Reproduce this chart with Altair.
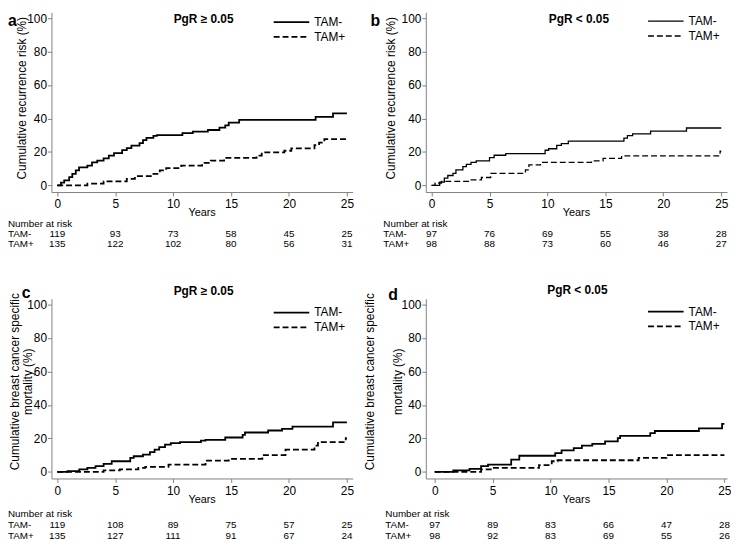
import altair as alt
import pandas as pd

FONT = "Liberation Sans"
GRAY = "#808080"
X_TICKS = [0, 5, 10, 15, 20, 25]
Y_TICKS = [0, 20, 40, 60, 80, 100]

# ---------------- data ----------------
# panel a: recurrence, PgR >= 0.05
a_neg_t = [0, 0.32, 0.6, 1.03, 1.3, 1.6, 1.88, 2.6, 3.0, 3.45, 4.0, 4.45, 4.9, 5.6, 6.0, 6.4, 7.1, 7.4, 7.7, 8.3, 8.6, 10.8, 11.7, 13.0, 14.0, 14.5, 14.8, 15.7, 22.3, 23.8, 25.0]
a_neg_y = [0, 1.6, 3.0, 4.9, 6.9, 8.9, 10.8, 11.8, 13.8, 14.8, 16.2, 17.8, 19.3, 21.1, 22.3, 23.7, 25.3, 27.0, 28.4, 29.6, 30.0, 31.2, 32.1, 33.1, 34.5, 35.9, 37.5, 39.1, 41.0, 43.0, 43.0]
a_pos_t = [0, 2.6, 4.0, 6.0, 6.7, 8.3, 8.85, 9.4, 10.7, 12.5, 13.25, 14.4, 17.2, 17.65, 19.6, 20.2, 22.2, 22.6, 23.05, 25.0]
a_pos_y = [0, 1.0, 2.4, 3.9, 5.5, 6.9, 8.9, 10.3, 11.8, 13.4, 14.8, 16.4, 17.8, 19.7, 20.7, 22.1, 24.1, 25.6, 27.6, 27.6]
a_risk_neg = [119, 93, 73, 58, 45, 25]
a_risk_pos = [135, 122, 102, 80, 56, 31]

# panel b: recurrence, PgR < 0.05
b_neg_t = [0, 0.7, 1.1, 1.4, 1.85, 2.1, 2.7, 3.0, 3.4, 3.85, 5.0, 5.4, 6.4, 9.8, 10.1, 10.8, 11.2, 11.8, 16.6, 16.9, 17.35, 18.9, 22.0, 25.0]
b_neg_y = [0, 1.9, 4.3, 5.9, 7.2, 9.2, 11.2, 12.5, 13.7, 14.7, 16.6, 18.0, 19.0, 21.0, 21.9, 23.9, 24.9, 26.5, 28.2, 29.8, 30.8, 32.4, 34.3, 34.3]
b_pos_t = [0, 0.3, 0.85, 3.3, 4.3, 5.1, 8.1, 8.4, 9.4, 13.8, 14.8, 16.4, 24.9, 25.0]
b_pos_y = [0, 1.4, 2.4, 3.3, 4.7, 7.2, 9.2, 12.2, 13.7, 14.7, 16.1, 17.6, 20.4, 20.4]
b_risk_neg = [97, 76, 69, 55, 38, 28]
b_risk_pos = [98, 88, 73, 60, 46, 27]

# panel c: breast cancer specific mortality, PgR >= 0.05
c_neg_t = [0, 0.88, 1.9, 2.6, 3.3, 4.0, 4.7, 6.3, 6.6, 7.4, 8.0, 8.4, 8.8, 9.3, 9.8, 10.6, 12.4, 12.8, 14.5, 16.0, 16.2, 18.2, 19.4, 20.3, 23.8, 25.0]
c_neg_y = [0, 0.4, 1.4, 2.4, 3.4, 4.7, 6.3, 8.3, 9.3, 10.2, 11.8, 13.2, 14.8, 16.2, 17.2, 17.8, 18.7, 19.1, 20.5, 22.1, 23.5, 24.7, 25.6, 27.0, 29.6, 29.6]
c_pos_t = [0, 4.0, 5.4, 7.0, 7.6, 9.6, 12.8, 14.8, 17.7, 19.7, 22.2, 22.5, 24.9, 25.0]
c_pos_y = [0, 0.8, 1.4, 2.4, 3.0, 4.3, 6.7, 7.7, 9.9, 13.2, 15.6, 17.8, 20.1, 20.1]
c_risk_neg = [119, 108, 89, 75, 57, 25]
c_risk_pos = [135, 127, 111, 91, 67, 24]

# panel d: breast cancer specific mortality, PgR < 0.05
d_neg_t = [0, 1.6, 3.0, 4.0, 4.6, 6.6, 7.3, 10.4, 10.95, 12.0, 12.7, 13.6, 14.7, 15.8, 16.0, 18.6, 19.0, 22.8, 24.8, 25.0]
d_neg_y = [0, 0.8, 1.8, 3.4, 4.3, 7.3, 9.6, 11.2, 12.8, 14.2, 15.6, 16.7, 18.2, 20.1, 21.5, 23.1, 24.4, 26.0, 28.6, 28.6]
d_pos_t = [0, 4.0, 5.0, 9.0, 10.1, 10.6, 17.6, 20.0, 25.0]
d_pos_y = [0, 1.4, 2.4, 4.0, 6.3, 6.9, 8.3, 9.9, 9.9]
d_risk_neg = [97, 89, 83, 66, 47, 28]
d_risk_pos = [98, 92, 83, 69, 55, 26]

W, H = 305, 182
TABLE_FS = 10


def txt(s, x, y, size=12, bold=False, align="left", baseline="middle", angle=0):
    return alt.Chart(alt.Data(values=[{}])).mark_text(
        text=s, font=FONT, fontSize=size, fontWeight="bold" if bold else "normal",
        align=align, baseline=baseline, angle=angle, color="black"
    ).encode(x=alt.value(x), y=alt.value(y))


def panel(letter, title, ylines, g, neg_t, neg_y, pos_t, pos_y, risk_neg, risk_pos, lw):
    xs = alt.Scale(domain=g["xdom"], nice=False, zero=False)
    ys = alt.Scale(domain=[-4, 103.5], nice=False, zero=False)
    xax = alt.Axis(values=X_TICKS, title=None, grid=False, domainColor=GRAY, tickColor=GRAY,
                   tickSize=4, labelFontSize=12, labelFont=FONT, labelColor="black",
                   labelPadding=3, labelFlush=False, format="d")
    yax = alt.Axis(values=Y_TICKS, title=None, grid=False, domainColor=GRAY, tickColor=GRAY,
                   tickSize=4, labelFontSize=12, labelFont=FONT, labelColor="black",
                   labelPadding=1, format="d")
    neg = pd.DataFrame({"t": neg_t, "y": neg_y})
    pos = pd.DataFrame({"t": pos_t, "y": pos_y})
    l1 = alt.Chart(neg).mark_line(interpolate="step-after", color="black", strokeWidth=lw).encode(
        x=alt.X("t:Q", scale=xs, axis=xax), y=alt.Y("y:Q", scale=ys, axis=yax))
    l2 = alt.Chart(pos).mark_line(interpolate="step-after", color="black", strokeWidth=lw,
                                  strokeDash=[6, 3]).encode(
        x=alt.X("t:Q", scale=xs, axis=xax), y=alt.Y("y:Q", scale=ys, axis=yax))

    layers = [l1, l2]
    # legend
    layers.append(alt.Chart(alt.Data(values=[{}])).mark_rule(color="black", strokeWidth=lw).encode(
        x=alt.value(225), x2=alt.value(261), y=alt.value(g["lg"])))
    layers.append(alt.Chart(alt.Data(values=[{}])).mark_rule(color="black", strokeWidth=lw,
                                                             strokeDash=[6, 3]).encode(
        x=alt.value(225), x2=alt.value(261), y=alt.value(g["lg"] + 15)))
    layers.append(txt("TAM-", 266, g["lg"]))
    layers.append(txt("TAM+", 266, g["lg"] + 15))
    # title and panel letter
    layers.append(txt(title, g["tx"], g["ty"], size=12, bold=True, align="center"))
    layers.append(txt(letter, g["lx"], g["ly"], size=16, bold=True, baseline="alphabetic"))
    # y axis title
    for (s, xx) in zip(ylines, g["ytx"]):
        layers.append(txt(s, xx, g["yty"], size=12, align="center", angle=270))
    # x axis title
    layers.append(txt("Years", W / 2, g["yrs"], size=11, align="center"))
    # number at risk table
    r0, r1, r2 = g["rows"]
    layers.append(txt("Number at risk", g["rx"], r0, size=TABLE_FS))
    layers.append(txt("TAM-", g["rx"], r1, size=TABLE_FS))
    layers.append(txt("TAM+", g["rx"], r2, size=TABLE_FS))
    for vals, ry in ((risk_neg, r1), (risk_pos, r2)):
        df = pd.DataFrame({"t": X_TICKS, "n": [str(v) for v in vals]})
        layers.append(alt.Chart(df).mark_text(font=FONT, fontSize=TABLE_FS, align="center",
                                              baseline="middle", color="black").encode(
            x=alt.X("t:Q", scale=xs, axis=xax), y=alt.value(ry), text="n:N"))
    return alt.layer(*layers).properties(width=W, height=H)


ga = dict(xdom=[-0.5, 25.5], tx=154, ty=7, lx=-44, ly=14, ytx=[-29.5], yty=87, rx=-44, lg=10,
          yrs=203.5, rows=[214, 224.5, 235])
gb = dict(xdom=[-0.5, 25.5], tx=155, ty=7, lx=-56, ly=14, ytx=[-35.5], yty=87, rx=-43, lg=9,
          yrs=203, rows=[214, 224.5, 235])
gc = dict(xdom=[-0.5, 25.5], tx=154, ty=-8, lx=-30, ly=-1, ytx=[-37, -24], yty=84, rx=-44, lg=14,
          yrs=203.5, rows=[218, 229, 240])
gd = dict(xdom=[-0.77, 25.23], tx=153.5, ty=-9, lx=-38, ly=1, ytx=[-56, -28], yty=84, rx=-41, lg=13,
          yrs=203.5, rows=[218, 229, 240])

pa = panel("a", "PgR \u2265 0.05", ["Cumulative recurrence risk (%)"], ga,
           a_neg_t, a_neg_y, a_pos_t, a_pos_y, a_risk_neg, a_risk_pos, 1.8)
pb = panel("b", "PgR < 0.05", ["Cumulative recurrence risk (%)"], gb,
           b_neg_t, b_neg_y, b_pos_t, b_pos_y, b_risk_neg, b_risk_pos, 1.3)
pc = panel("c", "PgR \u2265 0.05", ["Cumulative breast cancer specific", "mortality (%)"], gc,
           c_neg_t, c_neg_y, c_pos_t, c_pos_y, c_risk_neg, c_risk_pos, 1.8)
pd_ = panel("d", "PgR < 0.05", ["Cumulative breast cancer specific", "mortality (%)"], gd,
            d_neg_t, d_neg_y, d_pos_t, d_pos_y, d_risk_neg, d_risk_pos, 1.8)

chart = alt.concat(pa, pb, pc, pd_, columns=2, spacing={"row": 108, "column": 74},
                   bounds="flush").properties(padding=0).configure_view(stroke=None)

chart.save("out.html", embed_options={"renderer": "svg", "actions": False})
